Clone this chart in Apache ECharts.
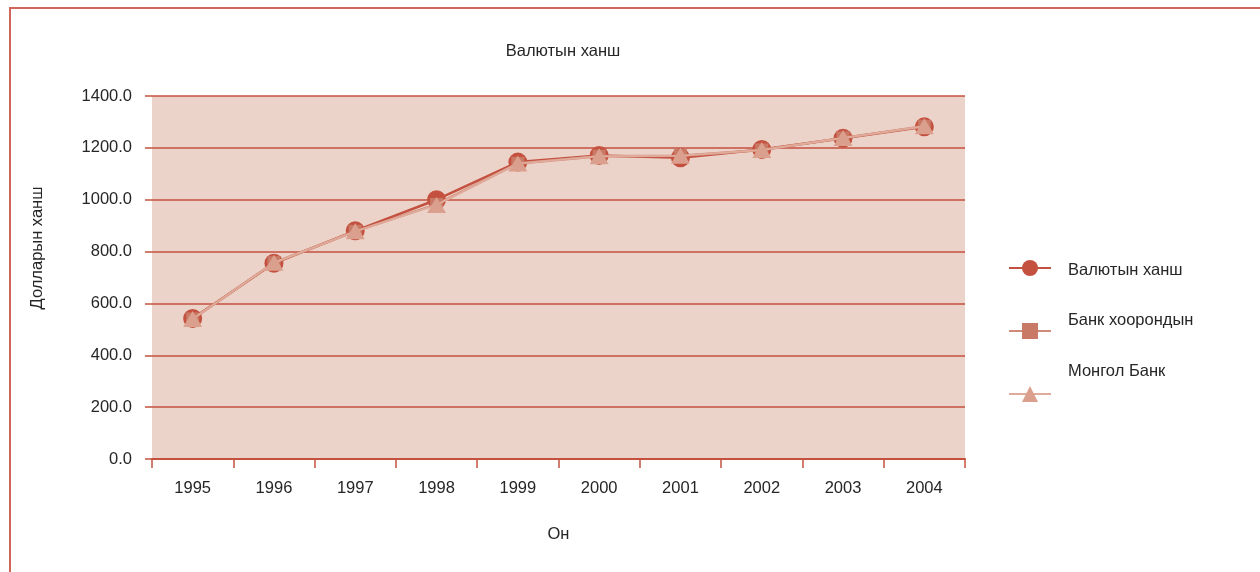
<!DOCTYPE html>
<html>
<head>
<meta charset="utf-8">
<script src="https://cdn.jsdelivr.net/npm/echarts@6/dist/echarts.min.js"></script>
<style>html,body{margin:0;padding:0;background:#fff}#c{width:1260px;height:572px}</style>
</head>
<body>
<div id="c"></div>
<script>
const categories = ['1995','1996','1997','1998','1999','2000','2001','2002','2003','2004'];
const seriesNames = ['Валютын ханш','Банк хоорондын','Монгол Банк'];
const valyutynKhansh = [542, 755, 880, 1000, 1145, 1171, 1162, 1194, 1237, 1281];
const bankKhoorondyn = [540, 757, 878, 982, 1140, 1168, 1170, 1192, 1238, 1283];
const mongolBank = [540, 757, 878, 980, 1140, 1168, 1170, 1192, 1238, 1283];
const titleText = 'Валютын ханш';
const yAxisName = 'Долларын ханш';
const xAxisName = 'Он';

const FONT = '"Liberation Sans",Arial,sans-serif';
const FS = 16.5;
const TXT = '#262626';
const RED = '#c4513f';

const chart = echarts.init(document.getElementById('c'), null, {renderer:'canvas'});
chart.setOption({
  animation:false,
  title:{text:titleText, left:558, top:38, textAlign:'center',
    textStyle:{fontFamily:FONT, fontSize:FS, fontWeight:'normal', color:TXT}},
  legend:[
    { // icons
      data:seriesNames, left:1008, top:258, orient:'vertical',
      itemWidth:42, itemHeight:20, itemGap:45, padding:0,
      formatter:()=>'', textStyle:{fontSize:1}
    },
    { // labels
      data:seriesNames, left:1063, top:261, orient:'vertical', icon:'none',
      itemWidth:0, itemHeight:18, itemGap:33, padding:0,
      textStyle:{fontFamily:FONT, fontSize:FS, color:TXT}
    }
  ],
  grid:{left:152, right:295, top:96, bottom:113, show:true, backgroundColor:'#ecd3ca', borderWidth:0},
  xAxis:{type:'category', data:categories, boundaryGap:true,
    name:xAxisName, nameLocation:'middle', nameGap:67,
    nameTextStyle:{fontFamily:FONT, fontSize:FS, color:TXT},
    axisLine:{lineStyle:{color:RED, width:2}},
    axisTick:{show:true, length:9, alignWithLabel:false, lineStyle:{color:RED, width:1.5}},
    axisLabel:{fontFamily:FONT, fontSize:FS, color:TXT, margin:21},
    splitLine:{show:false}},
  yAxis:{type:'value', min:0, max:1400, interval:200,
    axisLine:{show:false},
    axisTick:{show:true, length:7, lineStyle:{color:RED, width:1.5}},
    axisLabel:{fontFamily:FONT, fontSize:FS, color:TXT, margin:20, formatter:v=>v.toFixed(1)},
    splitLine:{show:true, lineStyle:{color:RED, width:1.5}}},
  graphic:[
    {type:'rect', shape:{x:10, y:8, width:1400, height:700}, style:{fill:'none', stroke:'#d0665a', lineWidth:2}, silent:true},
    {type:'text', x:37, y:248, rotation:Math.PI/2,
      style:{text:yAxisName, font:FS+'px '+FONT, fill:TXT, align:'center', verticalAlign:'middle'}}
  ],
  series:[
    {name:seriesNames[0], type:'line', data:valyutynKhansh, symbol:'circle', symbolSize:19,
      itemStyle:{color:'#c4513f'}, lineStyle:{color:'#c4513f', width:2.5}, z:2},
    {name:seriesNames[1], type:'line', data:bankKhoorondyn, symbol:'rect', symbolSize:13,
      itemStyle:{color:'#c97a66'}, lineStyle:{color:'#cf8a78', width:2.5}, z:3},
    {name:seriesNames[2], type:'line', data:mongolBank, symbol:'triangle', symbolSize:[19,16],
      itemStyle:{color:'#dba08d'}, lineStyle:{color:'#e0ab9a', width:2}, z:4}
  ]
});
</script>
</body>
</html>
